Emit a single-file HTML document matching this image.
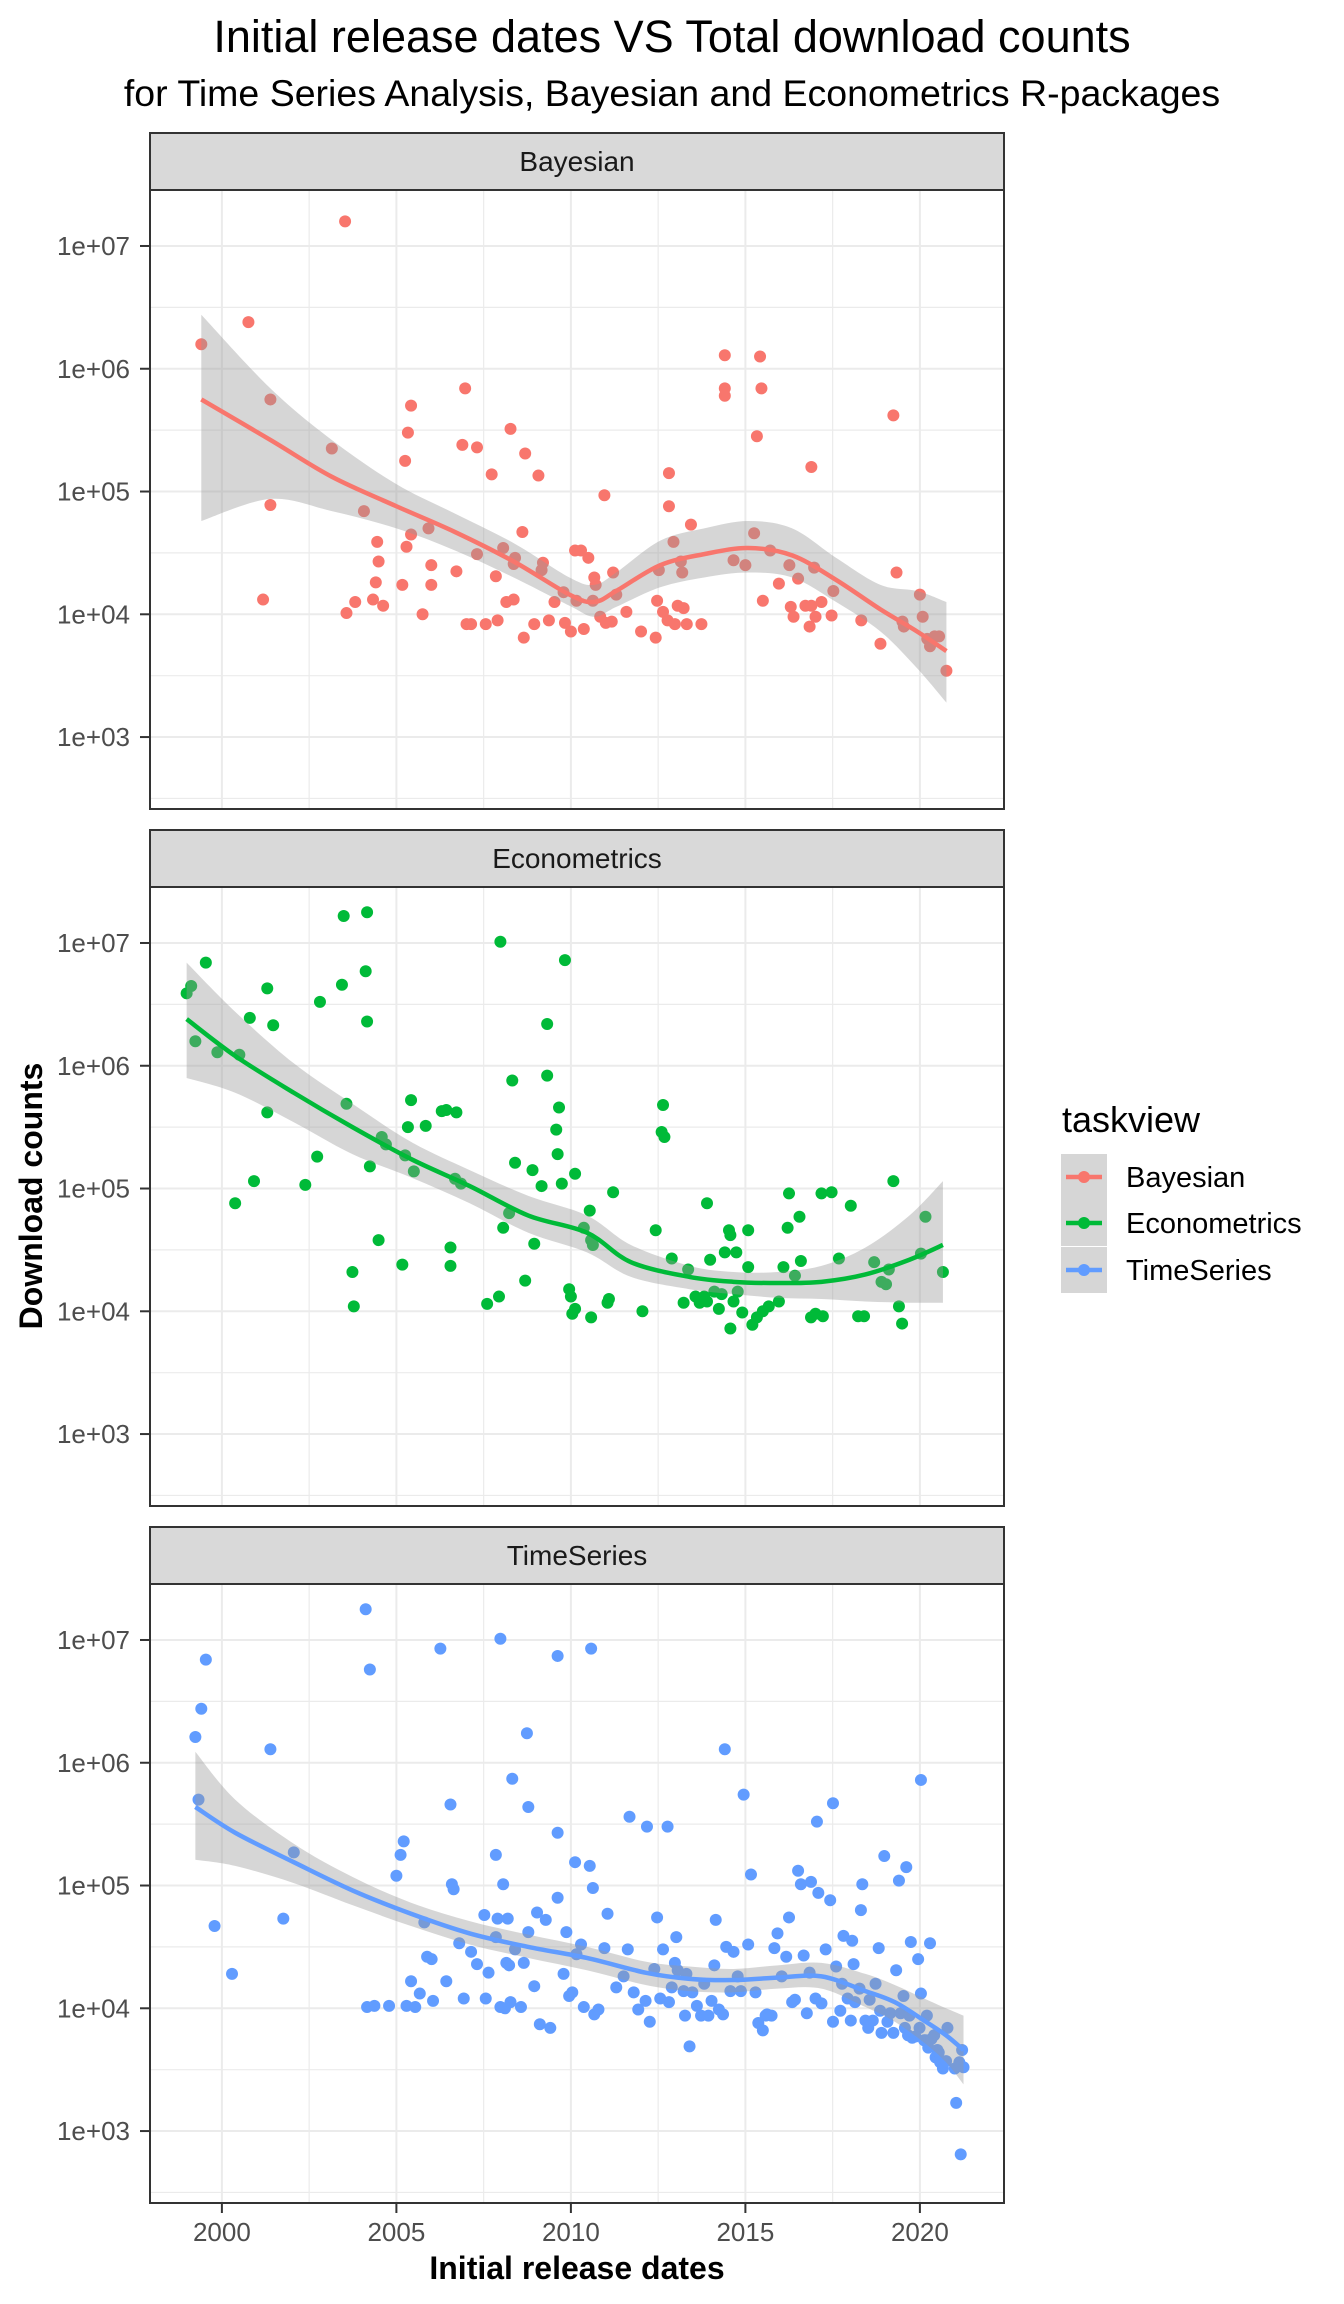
<!DOCTYPE html>
<html><head><meta charset="utf-8"><style>body{margin:0;background:#fff}svg{display:block;font-family:"Liberation Sans",Arial,sans-serif}</style></head>
<body>
<svg id="chart" width="1344" height="2304" viewBox="0 0 1344 2304" xmlns="http://www.w3.org/2000/svg">
<text x="672" y="52" font-size="45" text-anchor="middle" fill="#000">Initial release dates VS Total download counts</text>
<text x="672" y="106" font-size="37.5" text-anchor="middle" fill="#000">for Time Series Analysis, Bayesian and Econometrics R-packages</text>
<text transform="translate(42,1196) rotate(-90)" font-size="32" font-weight="bold" text-anchor="middle">Download counts</text>
<text x="577" y="2279" font-size="32" font-weight="bold" text-anchor="middle">Initial release dates</text>
<g id="panels"></g>
<g id="legend"></g>
</svg>
<script>
const panelNames = ["Bayesian","Econometrics","TimeSeries"];
const colors = ["#F8766D","#00BA38","#619CFF"];
const xTicks = [2000,2005,2010,2015,2020];
const yTickExp = [3,4,5,6,7];
const yTickLabels = ["1e+03","1e+04","1e+05","1e+06","1e+07"];

const bayYear = [1999.41,2000.76,2001.39,2001.39,2001.18,2003.15,2003.53,2003.57,2003.82,2004.07,2004.33,2004.41,2004.45,2004.49,2004.62,2005.29,2005.17,2005.25,2005.33,2005.42,2005.42,2005.75,2005.92,2006.0,2006.0,2006.72,2006.89,2006.97,2007.01,2007.14,2007.31,2007.31,2007.56,2007.73,2007.85,2007.9,2008.06,2008.15,2008.27,2008.36,2008.36,2008.4,2008.61,2008.65,2008.69,2008.95,2009.07,2009.16,2009.2,2009.37,2009.53,2009.79,2009.83,2010.0,2010.12,2010.16,2010.29,2010.37,2010.5,2010.63,2010.67,2010.71,2010.84,2010.96,2011.0,2011.17,2011.21,2011.3,2011.59,2012.01,2012.43,2012.47,2012.52,2012.64,2012.77,2012.81,2012.81,2012.94,2012.98,2013.06,2013.15,2013.19,2013.23,2013.32,2013.44,2013.74,2014.41,2014.41,2014.41,2014.66,2015.0,2015.25,2015.42,2015.46,2015.33,2015.5,2015.71,2015.96,2016.26,2016.3,2016.38,2016.51,2016.72,2016.84,2016.89,2016.89,2017.01,2016.97,2017.18,2017.47,2017.52,2018.32,2018.87,2019.24,2019.33,2019.5,2019.54,2020.0,2020.08,2020.21,2020.42,2020.29,2020.55,2020.76];
const bayLog = [6.20,6.38,5.75,4.89,4.12,5.35,7.20,4.01,4.10,4.84,4.12,4.26,4.59,4.43,4.07,4.55,4.24,5.25,5.48,5.70,4.65,4.00,4.70,4.40,4.24,4.35,5.38,5.84,3.92,3.92,5.36,4.49,3.92,5.14,4.31,3.95,4.54,4.10,5.51,4.12,4.41,4.46,4.67,3.81,5.31,3.92,5.13,4.36,4.42,3.95,4.10,4.18,3.93,3.86,4.52,4.11,4.52,3.88,4.46,4.11,4.30,4.24,3.98,4.97,3.93,3.94,4.34,4.16,4.02,3.86,3.81,4.11,4.36,4.02,3.95,5.15,4.88,4.59,3.92,4.07,4.43,4.34,4.05,3.92,4.73,3.92,6.11,5.84,5.78,4.44,4.40,4.66,6.10,5.84,5.45,4.11,4.52,4.25,4.40,4.06,3.98,4.29,4.07,3.90,4.07,5.20,3.98,4.38,4.10,3.99,4.19,3.95,3.76,5.62,4.34,3.94,3.90,4.16,3.98,3.80,3.82,3.74,3.82,3.54];
const bayFitYear = [1999.41,2001.39,2003.15,2005.0,2006.68,2008.36,2009.96,2010.67,2011.3,2012.56,2013.82,2015.08,2016.34,2017.6,2018.87,2019.92,2020.76];
const bayFit = [5.75,5.42,5.12,4.88,4.67,4.43,4.16,4.10,4.19,4.40,4.49,4.54,4.48,4.28,4.04,3.86,3.70];
const bayHi = [6.44,5.84,5.42,5.06,4.82,4.58,4.30,4.24,4.34,4.60,4.70,4.76,4.70,4.46,4.24,4.19,4.10];
const bayLo = [4.76,4.94,4.84,4.70,4.52,4.30,4.07,3.98,4.06,4.22,4.30,4.34,4.30,4.10,3.86,3.56,3.28];

const ecoYear = [1998.99,1999.12,1999.24,1999.54,1999.87,2000.38,2000.5,2000.8,2000.92,2001.3,2001.3,2001.47,2002.39,2002.73,2002.81,2003.44,2003.49,2003.57,2003.74,2003.78,2004.12,2004.16,2004.16,2004.24,2004.49,2004.58,2004.7,2005.17,2005.25,2005.33,2005.42,2005.5,2005.84,2006.3,2006.43,2006.55,2006.72,2006.55,2006.85,2006.68,2007.6,2007.94,2007.98,2008.06,2008.23,2008.32,2008.4,2008.69,2008.9,2008.95,2009.16,2009.32,2009.32,2009.62,2009.58,2009.66,2009.74,2009.83,2009.95,2010.0,2010.04,2010.12,2010.12,2010.37,2010.54,2010.58,2010.63,2010.58,2011.05,2011.09,2011.21,2012.05,2012.43,2012.6,2012.68,2012.64,2012.89,2013.23,2013.36,2013.57,2013.69,2013.82,2013.9,2013.9,2013.99,2014.11,2014.24,2014.32,2014.41,2014.53,2014.57,2014.57,2014.66,2014.74,2014.78,2014.91,2015.08,2015.08,2015.2,2015.33,2015.5,2015.67,2015.96,2016.09,2016.25,2016.21,2016.42,2016.55,2016.59,2016.88,2017.01,2017.22,2017.18,2017.47,2017.68,2018.02,2018.23,2018.4,2018.69,2018.9,2019.03,2019.11,2019.24,2019.4,2019.49,2020.03,2020.16,2020.66];
const ecoLog = [6.59,6.65,6.20,6.84,6.11,4.88,6.09,6.39,5.06,6.63,5.62,6.33,5.03,5.26,6.52,6.66,7.22,5.69,4.32,4.04,6.77,7.25,6.36,5.18,4.58,5.42,5.36,4.38,5.27,5.50,5.72,5.14,5.51,5.63,5.64,4.52,5.62,4.37,5.04,5.08,4.06,4.12,7.01,4.68,4.80,5.88,5.21,4.25,5.15,4.55,5.02,6.34,5.92,5.28,5.48,5.66,5.04,6.86,4.18,4.12,3.98,4.02,5.12,4.68,4.82,3.95,4.54,4.58,4.07,4.10,4.97,4.00,4.66,5.46,5.42,5.68,4.43,4.07,4.34,4.12,4.07,4.12,4.88,4.08,4.42,4.16,4.02,4.14,4.48,4.66,4.62,3.86,4.08,4.48,4.16,3.99,4.36,4.66,3.89,3.95,4.00,4.04,4.08,4.36,4.96,4.68,4.29,4.77,4.41,3.95,3.98,3.96,4.96,4.97,4.43,4.86,3.96,3.96,4.40,4.24,4.22,4.34,5.06,4.04,3.90,4.47,4.77,4.32];
const ecoFitYear = [1998.99,2000.38,2002.06,2003.74,2005.42,2007.1,2008.78,2010.46,2011.72,2013.4,2014.66,2015.92,2017.18,2018.44,2019.7,2020.66];
const ecoFit = [6.38,6.08,5.78,5.50,5.24,5.02,4.78,4.64,4.40,4.28,4.24,4.23,4.24,4.30,4.42,4.54];
const ecoHi = [6.84,6.44,6.02,5.69,5.38,5.15,4.94,4.78,4.54,4.37,4.32,4.32,4.37,4.52,4.78,5.06];
const ecoLo = [5.90,5.78,5.54,5.28,5.09,4.88,4.64,4.48,4.28,4.18,4.14,4.11,4.10,4.08,4.07,4.07];

const tsYear = [1999.24,1999.33,1999.41,1999.54,1999.79,2000.29,2001.39,2001.76,2002.06,2004.12,2004.24,2004.16,2004.37,2004.79,2005.0,2005.12,2005.21,2005.29,2005.42,2005.54,2005.67,2005.8,2005.88,2006.01,2006.05,2006.26,2006.43,2006.55,2006.59,2006.64,2006.8,2006.93,2007.14,2007.31,2007.52,2007.56,2007.64,2007.85,2007.85,2007.9,2007.98,2007.98,2008.06,2008.11,2008.15,2008.19,2008.23,2008.27,2008.32,2008.4,2008.57,2008.65,2008.74,2008.78,2008.78,2008.95,2009.03,2009.11,2009.28,2009.41,2009.62,2009.62,2009.62,2009.79,2009.87,2009.95,2010.04,2010.12,2010.16,2010.29,2010.37,2010.54,2010.58,2010.63,2010.67,2010.79,2010.96,2011.05,2011.3,2011.51,2011.63,2011.68,2011.8,2011.93,2012.14,2012.18,2012.26,2012.39,2012.47,2012.56,2012.64,2012.77,2012.81,2012.89,2012.98,2013.02,2013.06,2013.23,2013.27,2013.31,2013.4,2013.48,2013.61,2013.73,2013.82,2013.94,2014.03,2014.11,2014.15,2014.24,2014.36,2014.41,2014.45,2014.57,2014.66,2014.78,2014.87,2014.95,2015.08,2015.16,2015.29,2015.37,2015.5,2015.58,2015.62,2015.75,2015.83,2015.92,2016.04,2016.17,2016.25,2016.34,2016.42,2016.51,2016.59,2016.67,2016.76,2016.84,2016.88,2017.01,2017.05,2017.09,2017.18,2017.3,2017.43,2017.51,2017.51,2017.6,2017.72,2017.77,2017.81,2017.93,2018.02,2018.06,2018.1,2018.14,2018.27,2018.31,2018.35,2018.44,2018.52,2018.56,2018.65,2018.73,2018.82,2018.86,2018.9,2018.98,2019.07,2019.15,2019.24,2019.32,2019.4,2019.45,2019.53,2019.57,2019.61,2019.66,2019.7,2019.74,2019.78,2019.87,2019.95,2019.99,2020.03,2020.03,2020.12,2020.16,2020.2,2020.24,2020.29,2020.33,2020.41,2020.45,2020.5,2020.54,2020.58,2020.66,2020.75,2020.79,2021.04,2021.13,2021.21,2021.17,2021.25,2021.0];
const tsLog = [6.21,5.70,6.44,6.84,4.67,4.28,6.11,4.73,5.27,7.25,6.76,4.01,4.02,4.02,5.08,5.25,5.36,4.02,4.22,4.01,4.12,4.70,4.42,4.40,4.06,6.93,4.22,5.66,5.01,4.97,4.53,4.08,4.46,4.36,4.76,4.08,4.29,5.25,4.58,4.73,7.01,4.01,5.01,4.00,4.37,4.73,4.35,4.05,5.87,4.48,4.01,4.37,6.24,5.64,4.62,4.18,4.78,3.87,4.72,3.84,6.87,5.43,4.90,4.28,4.62,4.10,4.13,5.19,4.44,4.52,4.01,5.16,6.93,4.98,3.95,3.99,4.49,4.77,4.17,4.26,4.48,5.56,4.13,3.99,4.06,5.48,3.89,4.32,4.74,4.08,4.48,5.48,4.05,4.17,4.37,4.58,4.31,4.14,3.94,4.28,3.69,4.13,4.02,3.94,4.20,3.94,4.06,4.35,4.72,3.99,3.95,6.11,4.50,4.14,4.46,4.26,4.14,5.74,4.52,5.09,4.13,3.88,3.82,3.94,3.95,3.94,4.49,4.61,4.26,4.42,4.74,4.05,4.07,5.12,5.01,4.43,3.96,4.29,5.03,4.08,5.52,4.94,4.04,4.48,4.88,5.67,3.89,4.34,3.98,4.20,4.59,4.08,3.90,4.55,4.36,4.05,4.16,4.80,5.01,3.90,3.84,4.07,3.90,4.20,4.49,3.98,3.80,5.24,3.89,3.96,3.80,4.31,5.04,3.96,4.10,3.84,5.15,3.78,3.94,4.54,3.76,3.77,4.40,3.84,5.86,4.12,3.74,3.74,3.94,3.68,4.53,3.75,3.78,3.60,3.66,3.64,3.56,3.51,3.57,3.84,3.23,3.56,3.66,2.81,3.52,3.51];
const tsFitYear = [1999.24,2000.38,2002.06,2003.74,2005.42,2007.1,2008.78,2010.46,2012.14,2013.4,2014.66,2015.92,2017.18,2018.44,2019.28,2020.12,2020.75,2021.25];
const tsFit = [5.64,5.43,5.19,4.96,4.77,4.61,4.50,4.41,4.29,4.24,4.23,4.25,4.26,4.14,4.05,3.90,3.78,3.66];
const tsHi = [6.09,5.70,5.34,5.07,4.86,4.71,4.60,4.50,4.38,4.34,4.32,4.35,4.37,4.28,4.19,4.08,4.00,3.94];
const tsLo = [5.21,5.16,5.02,4.84,4.67,4.52,4.41,4.31,4.19,4.14,4.13,4.16,4.16,4.01,3.89,3.72,3.56,3.38];

const NS = "http://www.w3.org/2000/svg";
const PL = 150, PR = 1004, PH = 619;
const panelTop = [190, 887, 1584];
const stripTop = [133, 830, 1527];
const xMin = 1997.94, xMax = 2022.41;
function xS(v){ return PL + (v - xMin) / (xMax - xMin) * (PR - PL); }
const yMin = 2.414, yMax = 7.456;
function yS(i, v){ return panelTop[i] + (yMax - v) / (yMax - yMin) * PH; }
function mk(tag, attrs, parent){ const e = document.createElementNS(NS, tag); for (const k in attrs) e.setAttribute(k, attrs[k]); parent.appendChild(e); return e; }
function smoothPath(pts){
  let d = "M" + pts[0][0] + "," + pts[0][1];
  for (let i = 0; i < pts.length - 1; i++){
    const p0 = pts[Math.max(0, i-1)], p1 = pts[i], p2 = pts[i+1], p3 = pts[Math.min(pts.length-1, i+2)];
    const c1x = p1[0] + (p2[0]-p0[0])/6, c1y = p1[1] + (p2[1]-p0[1])/6;
    const c2x = p2[0] - (p3[0]-p1[0])/6, c2y = p2[1] - (p3[1]-p1[1])/6;
    d += " C" + c1x + "," + c1y + " " + c2x + "," + c2y + " " + p2[0] + "," + p2[1];
  }
  return d;
}
const panelsG = document.getElementById("panels");
const series = [
  [bayYear, bayLog, bayFitYear, bayFit, bayHi, bayLo],
  [ecoYear, ecoLog, ecoFitYear, ecoFit, ecoHi, ecoLo],
  [tsYear, tsLog, tsFitYear, tsFit, tsHi, tsLo]
];
for (let i = 0; i < 3; i++){
  const g = mk("g", {}, panelsG);
  
  
  const strip = mk("rect", {x: PL, y: stripTop[i], width: PR-PL, height: panelTop[i]-stripTop[i], fill: "#D9D9D9", stroke: "#333", "stroke-width": 2}, g);
  
  
  const st = mk("text", {x: (PL+PR)/2, y: stripTop[i] + 38, "font-size": 28, "text-anchor": "middle", fill: "#1A1A1A"}, g);
  st.textContent = panelNames[i];
  
  
  mk("rect", {x: PL, y: panelTop[i], width: PR-PL, height: PH, fill: "#fff"}, g);
  for (let k = 0; k < yTickExp.length; k++){
    const yy = yS(i, yTickExp[k] - 0.5);
    if (yy < panelTop[i] + PH) mk("line", {x1: PL, x2: PR, y1: yy, y2: yy, stroke: "#EBEBEB", "stroke-width": 1.2}, g);
  }
  for (let k = 0; k < xTicks.length; k++){
    const xx = xS(xTicks[k] + 2.5);
    if (xx < PR) mk("line", {x1: xx, x2: xx, y1: panelTop[i], y2: panelTop[i]+PH, stroke: "#EBEBEB", "stroke-width": 1.2}, g);
  }
  for (let k = 0; k < yTickExp.length; k++){
    const yy = yS(i, yTickExp[k]);
    mk("line", {x1: PL, x2: PR, y1: yy, y2: yy, stroke: "#EBEBEB", "stroke-width": 2}, g);
    mk("line", {x1: PL-10, x2: PL, y1: yy, y2: yy, stroke: "#333", "stroke-width": 2}, g);
    const t = mk("text", {x: PL-20, y: yy+9, "font-size": 26, "text-anchor": "end", fill: "#4D4D4D"}, g);
    t.textContent = yTickLabels[k];
    
    
  }
  for (let k = 0; k < xTicks.length; k++){
    const xx = xS(xTicks[k]);
    mk("line", {x1: xx, x2: xx, y1: panelTop[i], y2: panelTop[i]+PH, stroke: "#EBEBEB", "stroke-width": 2}, g);
  }
  const [xs, ys, fx, fy, hi, lo] = series[i];
  const pg = mk("g", {fill: colors[i]}, g);
  
  
  for (let k = 0; k < xs.length; k++){
    const c = mk("circle", {cx: xS(xs[k]), cy: yS(i, ys[k]), r: 6}, pg);
    
    
  }
  const upper = fx.map((v, k) => [xS(v), yS(i, hi[k])]);
  const lower = fx.map((v, k) => [xS(v), yS(i, lo[k])]).reverse();
  const up = smoothPath(upper), lp = smoothPath(lower);
  const rib = mk("path", {d: up + " L" + lp.slice(1) + " Z", fill: "#999999", "fill-opacity": 0.4}, g);
  
  
  const line = mk("path", {d: smoothPath(fx.map((v, k) => [xS(v), yS(i, fy[k])])), fill: "none", stroke: colors[i], "stroke-width": 4.5}, g);
  
  
  const border = mk("rect", {x: PL, y: panelTop[i], width: PR-PL, height: PH, fill: "none", stroke: "#333", "stroke-width": 2}, g);
  
  
}
const xg = mk("g", {}, panelsG);


const bottom = panelTop[2] + PH;
for (let k = 0; k < xTicks.length; k++){
  const xx = xS(xTicks[k]);
  mk("line", {x1: xx, x2: xx, y1: bottom, y2: bottom+10, stroke: "#333", "stroke-width": 2}, xg);
  const t = mk("text", {x: xx, y: 2241, "font-size": 26, "text-anchor": "middle", fill: "#4D4D4D"}, xg);
  t.textContent = xTicks[k];
  
  
}
const lg = document.getElementById("legend");
const lt = mk("text", {x: 1062, y: 1132, "font-size": 36, fill: "#000"}, lg);
lt.textContent = "taskview";


const keyY = [1177, 1223, 1270];
for (let k = 0; k < 3; k++){
  const e = mk("g", {}, lg);
  
  
  mk("rect", {x: 1061, y: keyY[k]-23, width: 46, height: 46, fill: "#D6D6D6"}, e);
  mk("line", {x1: 1066, x2: 1102, y1: keyY[k], y2: keyY[k], stroke: colors[k], "stroke-width": 4.5}, e);
  mk("circle", {cx: 1084, cy: keyY[k], r: 6, fill: colors[k]}, e);
  const t = mk("text", {x: 1126, y: keyY[k]+10, "font-size": 29, fill: "#000"}, e);
  t.textContent = panelNames[k];
}
</script>
</body></html>
